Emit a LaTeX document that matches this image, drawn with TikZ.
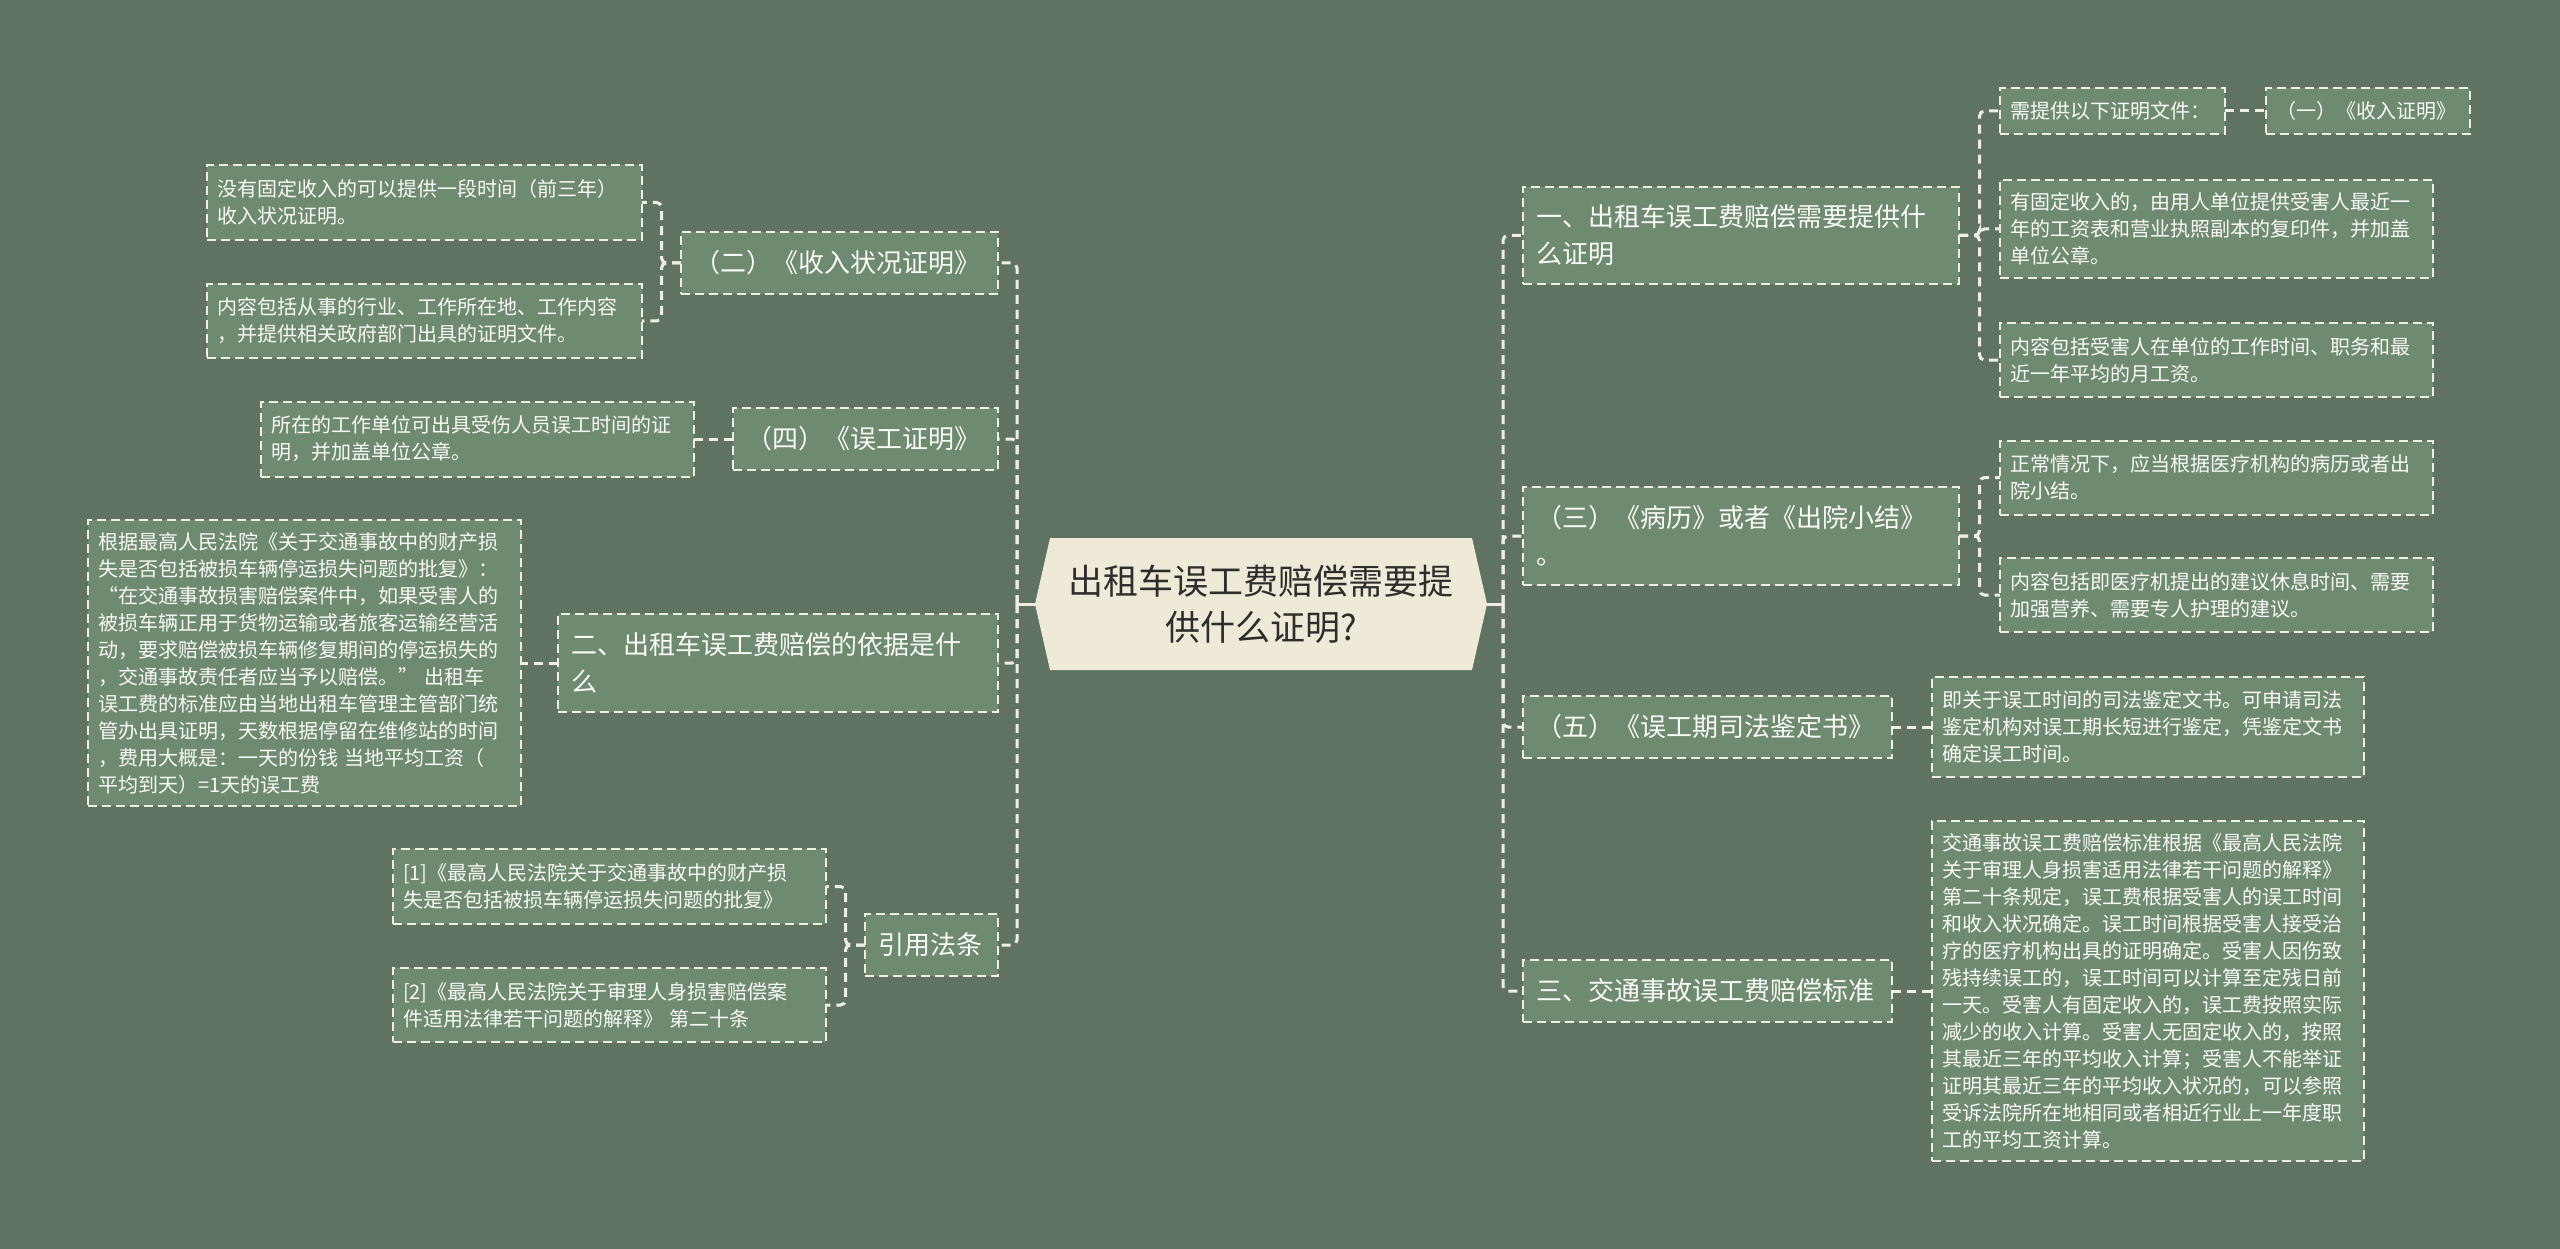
\documentclass[tikz,border=0pt]{standalone}
\usepackage{fontspec}
\setmainfont{Noto Sans CJK SC}
\usetikzlibrary{backgrounds}
\definecolor{bgc}{RGB}{96,115,98}
\definecolor{boxc}{RGB}{110,139,114}
\definecolor{linec}{RGB}{240,238,226}
\definecolor{centc}{RGB}{239,234,216}
\definecolor{centtext}{RGB}{45,45,45}
\definecolor{txtc}{RGB}{250,250,246}
\tikzset{
  box/.style={draw=linec, fill=boxc, line width=2pt, dash pattern=on 9pt off 5pt,
    text=txtc, align=left, anchor=center, inner ysep=0pt, outer sep=0pt},
  leaf/.style={box, inner xsep=10pt, font=\fontsize{20pt}{27pt}\selectfont},
  branch/.style={box, inner xsep=13pt, font=\fontsize{26pt}{37pt}\selectfont},
  conn/.style={draw=linec, line width=3pt, dash pattern=on 9pt off 6pt, rounded corners=5pt},
  stub/.style={draw=linec, line width=3pt},
}
\begin{document}
\begin{tikzpicture}[x=1pt,y=-1pt]
\useasboundingbox (0,0) rectangle (2560,1249);

% central node
\node[font=\fontsize{35pt}{46pt}\selectfont, text=centtext, align=center,
  minimum width=452pt, minimum height=132pt, inner sep=0pt, outer sep=0pt] (ctr) at (1261,604)
  {出租车误工费赔偿需要提\\供什么证明?};
\coordinate (lt) at (1017,604);
\coordinate (rt) at (1503,604);

% ---------------- left side ----------------
\node[branch, text width=291pt, minimum height=62pt] (n2) at (839.5,263) {（二）《收入状况证明》};
\node[leaf, text width=415pt, minimum height=75pt] (a1) at (424.5,202.5)
  {没有固定收入的可以提供一段时间（前三年）\\收入状况证明。};
\node[leaf, text width=415pt, minimum height=74pt] (a2) at (424.5,321)
  {内容包括从事的行业、工作所在地、工作内容\\，并提供相关政府部门出具的证明文件。};

\node[branch, text width=239pt, minimum height=62pt] (n4) at (865.5,439) {（四）《误工证明》};
\node[leaf, text width=413pt, minimum height=75pt] (b1) at (477.5,439)
  {所在的工作单位可出具受伤人员误工时间的证\\明，并加盖单位公章。};

\node[branch, text width=414pt, minimum height=98pt] (nII) at (778,663)
  {二、出租车误工费赔偿的依据是什\\么};
\node[leaf, text width=413pt, minimum height=286pt] (c1) at (304.5,663)
  {根据最高人民法院《关于交通事故中的财产损\\
   失是否包括被损车辆停运损失问题的批复》：\\
   “在交通事故损害赔偿案件中，如果受害人的\\
   被损车辆正用于货物运输或者旅客运输经营活\\
   动，要求赔偿被损车辆修复期间的停运损失的\\
   ，交通事故责任者应当予以赔偿。” 出租车\\
   误工费的标准应由当地出租车管理主管部门统\\
   管办出具证明，天数根据停留在维修站的时间\\
   ，费用大概是：一天的份钱 当地平均工资（\\
   平均到天）=1天的误工费};

\node[branch, text width=107pt, minimum height=62pt] (nRef) at (931.5,945) {引用法条};
\node[leaf, text width=413pt, minimum height=75pt] (d1) at (609.5,886.5)
  {[1]《最高人民法院关于交通事故中的财产损\\失是否包括被损车辆停运损失问题的批复》};
\node[leaf, text width=413pt, minimum height=74pt] (d2) at (609.5,1005)
  {[2]《最高人民法院关于审理人身损害赔偿案\\件适用法律若干问题的解释》 第二十条};

% ---------------- right side ----------------
\node[branch, text width=410pt, minimum height=97pt] (r1) at (1741,235.5)
  {一、出租车误工费赔偿需要提供什\\么证明};
\node[leaf, text width=205pt, minimum height=46pt] (r1a) at (2112.5,111) {需提供以下证明文件：};
\node[leaf, text width=184pt, minimum height=46pt] (r1a1) at (2368,111) {（一）《收入证明》};
\node[leaf, text width=413pt, minimum height=98pt] (r1b) at (2216.5,229)
  {有固定收入的，由用人单位提供受害人最近一\\年的工资表和营业执照副本的复印件，并加盖\\单位公章。};
\node[leaf, text width=413pt, minimum height=74pt] (r1c) at (2216.5,360)
  {内容包括受害人在单位的工作时间、职务和最\\近一年平均的月工资。};

\node[branch, text width=410pt, minimum height=98pt] (r3) at (1741,536)
  {（三）《病历》或者《出院小结》\\。};
\node[leaf, text width=413pt, minimum height=74pt] (r3a) at (2216.5,477.5)
  {正常情况下，应当根据医疗机构的病历或者出\\院小结。};
\node[leaf, text width=413pt, minimum height=74pt] (r3b) at (2216.5,595)
  {内容包括即医疗机提出的建议休息时间、需要\\加强营养、需要专人护理的建议。};

\node[branch, text width=343pt, minimum height=62pt] (r5) at (1707.5,727) {（五）《误工期司法鉴定书》};
\node[leaf, text width=412pt, minimum height=100pt] (r5a) at (2148,727)
  {即关于误工时间的司法鉴定文书。可申请司法\\鉴定机构对误工期长短进行鉴定，凭鉴定文书\\确定误工时间。};

\node[branch, text width=343pt, minimum height=62pt] (rIII) at (1707.5,991) {三、交通事故误工费赔偿标准};
\node[leaf, text width=412pt, minimum height=340pt] (rIIIa) at (2148,991)
  {交通事故误工费赔偿标准根据《最高人民法院\\
   关于审理人身损害适用法律若干问题的解释》\\
   第二十条规定，误工费根据受害人的误工时间\\
   和收入状况确定。误工时间根据受害人接受治\\
   疗的医疗机构出具的证明确定。受害人因伤致\\
   残持续误工的，误工时间可以计算至定残日前\\
   一天。受害人有固定收入的，误工费按照实际\\
   减少的收入计算。受害人无固定收入的，按照\\
   其最近三年的平均收入计算；受害人不能举证\\
   证明其最近三年的平均收入状况的，可以参照\\
   受诉法院所在地相同或者相近行业上一年度职\\
   工的平均工资计算。};

\begin{scope}[on background layer]
  \fill[bgc] (0,0) rectangle (2560,1249);
  \fill[centc] (ctr.west) -- ([xshift=15pt]ctr.north west) -- ([xshift=-15pt]ctr.north east)
    -- (ctr.east) -- ([xshift=-15pt]ctr.south east) -- ([xshift=15pt]ctr.south west) -- cycle;
  % trunks
  \draw[stub] (ctr.west) -- (lt);
  \draw[stub] (ctr.east) -- (rt);
  \draw[conn] (lt) |- (n2.east);
  \draw[conn] (lt) |- (n4.east);
  \draw[conn] (lt) |- (nII.east);
  \draw[conn] (lt) |- (nRef.east);
  \draw[conn] (rt) |- (r1.west);
  \draw[conn] (rt) |- (r3.west);
  \draw[conn] (rt) |- (r5.west);
  \draw[conn] (rt) |- (rIII.west);
  % left sub-branches
  \draw[conn] (n2.west) -- ++(-19.5,0) |- (a1.east);
  \draw[conn] (n2.west) -- ++(-19.5,0) |- (a2.east);
  \draw[conn] (n4.west) -- (b1.east);
  \draw[conn] (nII.west) -- (c1.east);
  \draw[conn] (nRef.west) -- ++(-19.5,0) |- (d1.east);
  \draw[conn] (nRef.west) -- ++(-19.5,0) |- (d2.east);
  % right sub-branches
  \draw[conn] (r1.east) -- ++(20.5,0) |- (r1a.west);
  \draw[conn] (r1.east) -- ++(20.5,0) |- (r1b.west);
  \draw[conn] (r1.east) -- ++(20.5,0) |- (r1c.west);
  \draw[conn] (r1a.east) -- (r1a1.west);
  \draw[conn] (r3.east) -- ++(20.5,0) |- (r3a.west);
  \draw[conn] (r3.east) -- ++(20.5,0) |- (r3b.west);
  \draw[conn] (r5.east) -- (r5a.west);
  \draw[conn] (rIII.east) -- (rIIIa.west);
\end{scope}
\end{tikzpicture}
\end{document}
